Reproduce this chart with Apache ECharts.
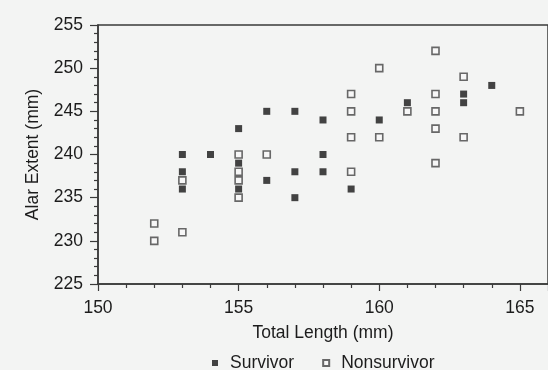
<!DOCTYPE html>
<html>
<head>
<meta charset="utf-8">
<script src="https://cdn.jsdelivr.net/npm/echarts@6/dist/echarts.min.js"></script>
<style>
  html, body { margin: 0; padding: 0; background: #f3f4f3; }
  #main { width: 548px; height: 370px; }
</style>
</head>
<body>
<div id="main"></div>
<script>
// 数据：总长度(mm) 与 翼展(mm)
const survivorLength = [153, 154, 153, 153, 155, 155, 155, 156, 156, 157, 157, 157, 158, 158, 158, 159, 160, 161, 163, 163, 164];
const survivorAlar   = [240, 240, 238, 236, 243, 239, 236, 245, 237, 245, 238, 235, 244, 240, 238, 236, 244, 246, 247, 246, 248];
const nonsurvivorLength = [152, 152, 153, 153, 155, 155, 155, 155, 156, 159, 159, 159, 159, 160, 160, 161, 162, 162, 162, 162, 162, 163, 163, 165];
const nonsurvivorAlar   = [232, 230, 237, 231, 240, 238, 237, 235, 240, 247, 245, 242, 238, 250, 242, 245, 252, 247, 245, 243, 239, 249, 242, 245];
const seriesNames = ['Survivor', 'Nonsurvivor'];

// 组合坐标
function pairs(xs, ys) {
  let arr = [];
  xs.map((x, i) => {
    arr.push([x, ys[i]]);
  });
  return arr;
}

const font = '"Liberation Sans", Arial, sans-serif';
const ink = '#1c1c1c';

const chart = echarts.init(document.getElementById('main'));
chart.setOption({
  backgroundColor: '#f3f4f3',
  animation: false,
  grid: {
    left: 98,
    top: 25,
    bottom: 86,
    right: -9,
    show: true,
    borderColor: '#3a3a3a',
    borderWidth: 1.5,
    backgroundColor: 'transparent'
  },
  legend: {
    top: 349,
    left: 207,
    itemWidth: 6,
    itemHeight: 6,
    itemGap: 28,
    textStyle: { fontFamily: font, fontSize: 17.5, color: ink, padding: [0, 0, 0, 7] },
    data: seriesNames
  },
  xAxis: {
    type: 'value',
    min: 150,
    max: 166,
    interval: 5,
    name: 'Total Length (mm)',
    nameLocation: 'middle',
    nameGap: 40,
    nameTextStyle: { fontFamily: font, fontSize: 17.5, color: ink },
    splitLine: { show: false },
    axisLine: { lineStyle: { color: '#3a3a3a', width: 1.5 } },
    axisTick: { length: 7, lineStyle: { color: '#3a3a3a', width: 1.2 } },
    minorTick: { show: true, splitNumber: 5, length: 4, lineStyle: { color: '#3a3a3a', width: 1.2 } },
    axisLabel: {
      margin: 15,
      fontFamily: font,
      fontSize: 17.5,
      color: ink,
      showMaxLabel: false,
      formatter: function (v) {
        return v % 5 === 0 ? String(v) : '';
      }
    }
  },
  yAxis: {
    type: 'value',
    min: 225,
    max: 255,
    interval: 5,
    name: 'Alar Extent (mm)',
    nameLocation: 'middle',
    nameGap: 56,
    nameTextStyle: { fontFamily: font, fontSize: 17.5, color: ink },
    splitLine: { show: false },
    axisLine: { lineStyle: { color: '#3a3a3a', width: 1.5 } },
    axisTick: { length: 8, lineStyle: { color: '#3a3a3a', width: 1.2 } },
    minorTick: { show: true, splitNumber: 5, length: 4, lineStyle: { color: '#3a3a3a', width: 1.2 } },
    axisLabel: { margin: 15, fontFamily: font, fontSize: 17.5, color: ink }
  },
  series: [
    {
      name: seriesNames[0],
      type: 'scatter',
      symbol: 'rect',
      symbolSize: 7,
      itemStyle: { color: '#151515' },
      data: pairs(survivorLength, survivorAlar)
    },
    {
      name: seriesNames[1],
      type: 'scatter',
      symbol: 'rect',
      symbolSize: 7,
      itemStyle: { color: '#f7f7f7', borderColor: '#444', borderWidth: 1.6 },
      data: pairs(nonsurvivorLength, nonsurvivorAlar)
    }
  ]
});
</script>
</body>
</html>
